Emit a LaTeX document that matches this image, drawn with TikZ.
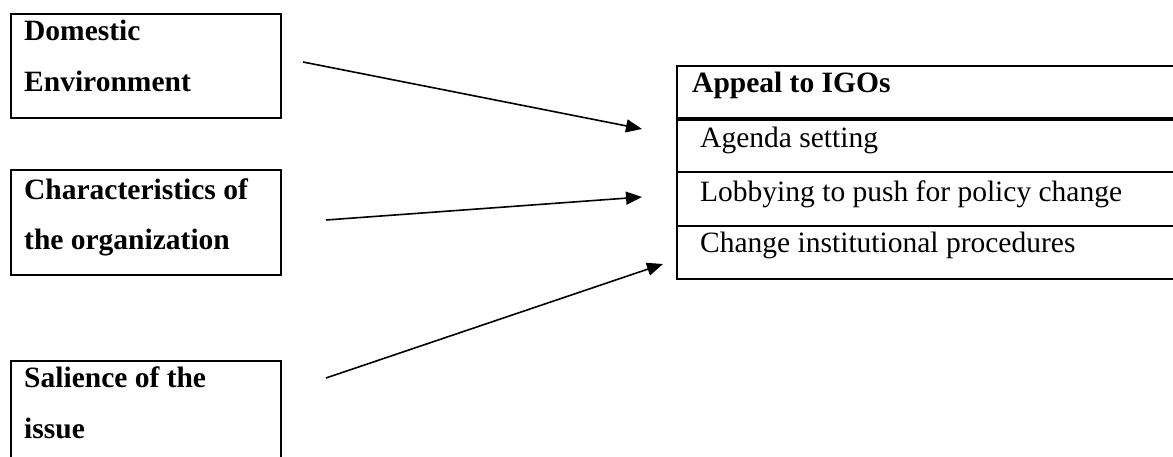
\documentclass[tikz,border=0pt]{standalone}
\usepackage{fontspec}
\setmainfont{Liberation Serif}
\usetikzlibrary{arrows.meta}
\begin{document}
\begin{tikzpicture}[x=1pt,y=-1pt,
  box/.style={draw,line width=2pt,minimum width=270pt,anchor=north west,inner sep=0pt},
  lbl/.style={anchor=base west,inner sep=0pt,align=left,font=\fontsize{29.5}{51}\selectfont\bfseries},
  cell/.style={anchor=north west,minimum width=510pt,minimum height=53pt,inner sep=0pt},
  celltext/.style={anchor=base west,inner sep=0pt,font=\fontsize{29.5}{36}\selectfont},
  rule/.style={line width=2pt},
  arr/.style={line width=1.6pt,-{Triangle[length=16pt,width=13pt]}}]
\useasboundingbox (0,0) rectangle (1173,457);
\clip (0,0) rectangle (1173,457);
% left boxes
\node[box,minimum height=104pt] (dom) at (10,13) {};
\node[lbl] (domt) at (24,92) {Domestic\\Environment};
\node[box,minimum height=105pt] (org) at (10,169) {};
\node[lbl] (orgt) at (24,250) {Characteristics of\\the organization};
\node[box,minimum height=130pt] (sal) at (10,360) {};
\node[lbl] (salt) at (24,438) {Salience of the\\issue};
% table
\node[cell] (igo) at (677,66) {};
\node[cell] (agenda) at (677,119) {};
\node[cell] (lobby) at (677,172) {};
\node[cell] (change) at (677,226) {};
\node[celltext,font=\fontsize{29.5}{36}\selectfont\bfseries] (igot) at (692,93) {Appeal to IGOs};
\node[celltext] (agendat) at (700,148) {Agenda setting};
\node[celltext] (lobbyt) at (700,202) {Lobbying to push for policy change};
\node[celltext] (changet) at (700,253) {Change institutional procedures};
\draw[rule] (igo.north east) -- (igo.north west) -- (change.south west) -- (change.south east);
\draw[line width=3.6pt] (agenda.north west) -- (agenda.north east);
\draw[rule] (lobby.north west) -- (lobby.north east);
\draw[rule] (change.north west) -- (change.north east);
% arrows
\coordinate (a1s) at (303,62);
\coordinate (a1e) at (642,129);
\coordinate (a2s) at (326,220);
\coordinate (a2e) at (642,197);
\coordinate (a3s) at (326,378);
\coordinate (a3e) at (663,264);
\draw[arr] (a1s) -- (a1e);
\draw[arr] (a2s) -- (a2e);
\draw[arr] (a3s) -- (a3e);
\end{tikzpicture}
\end{document}
